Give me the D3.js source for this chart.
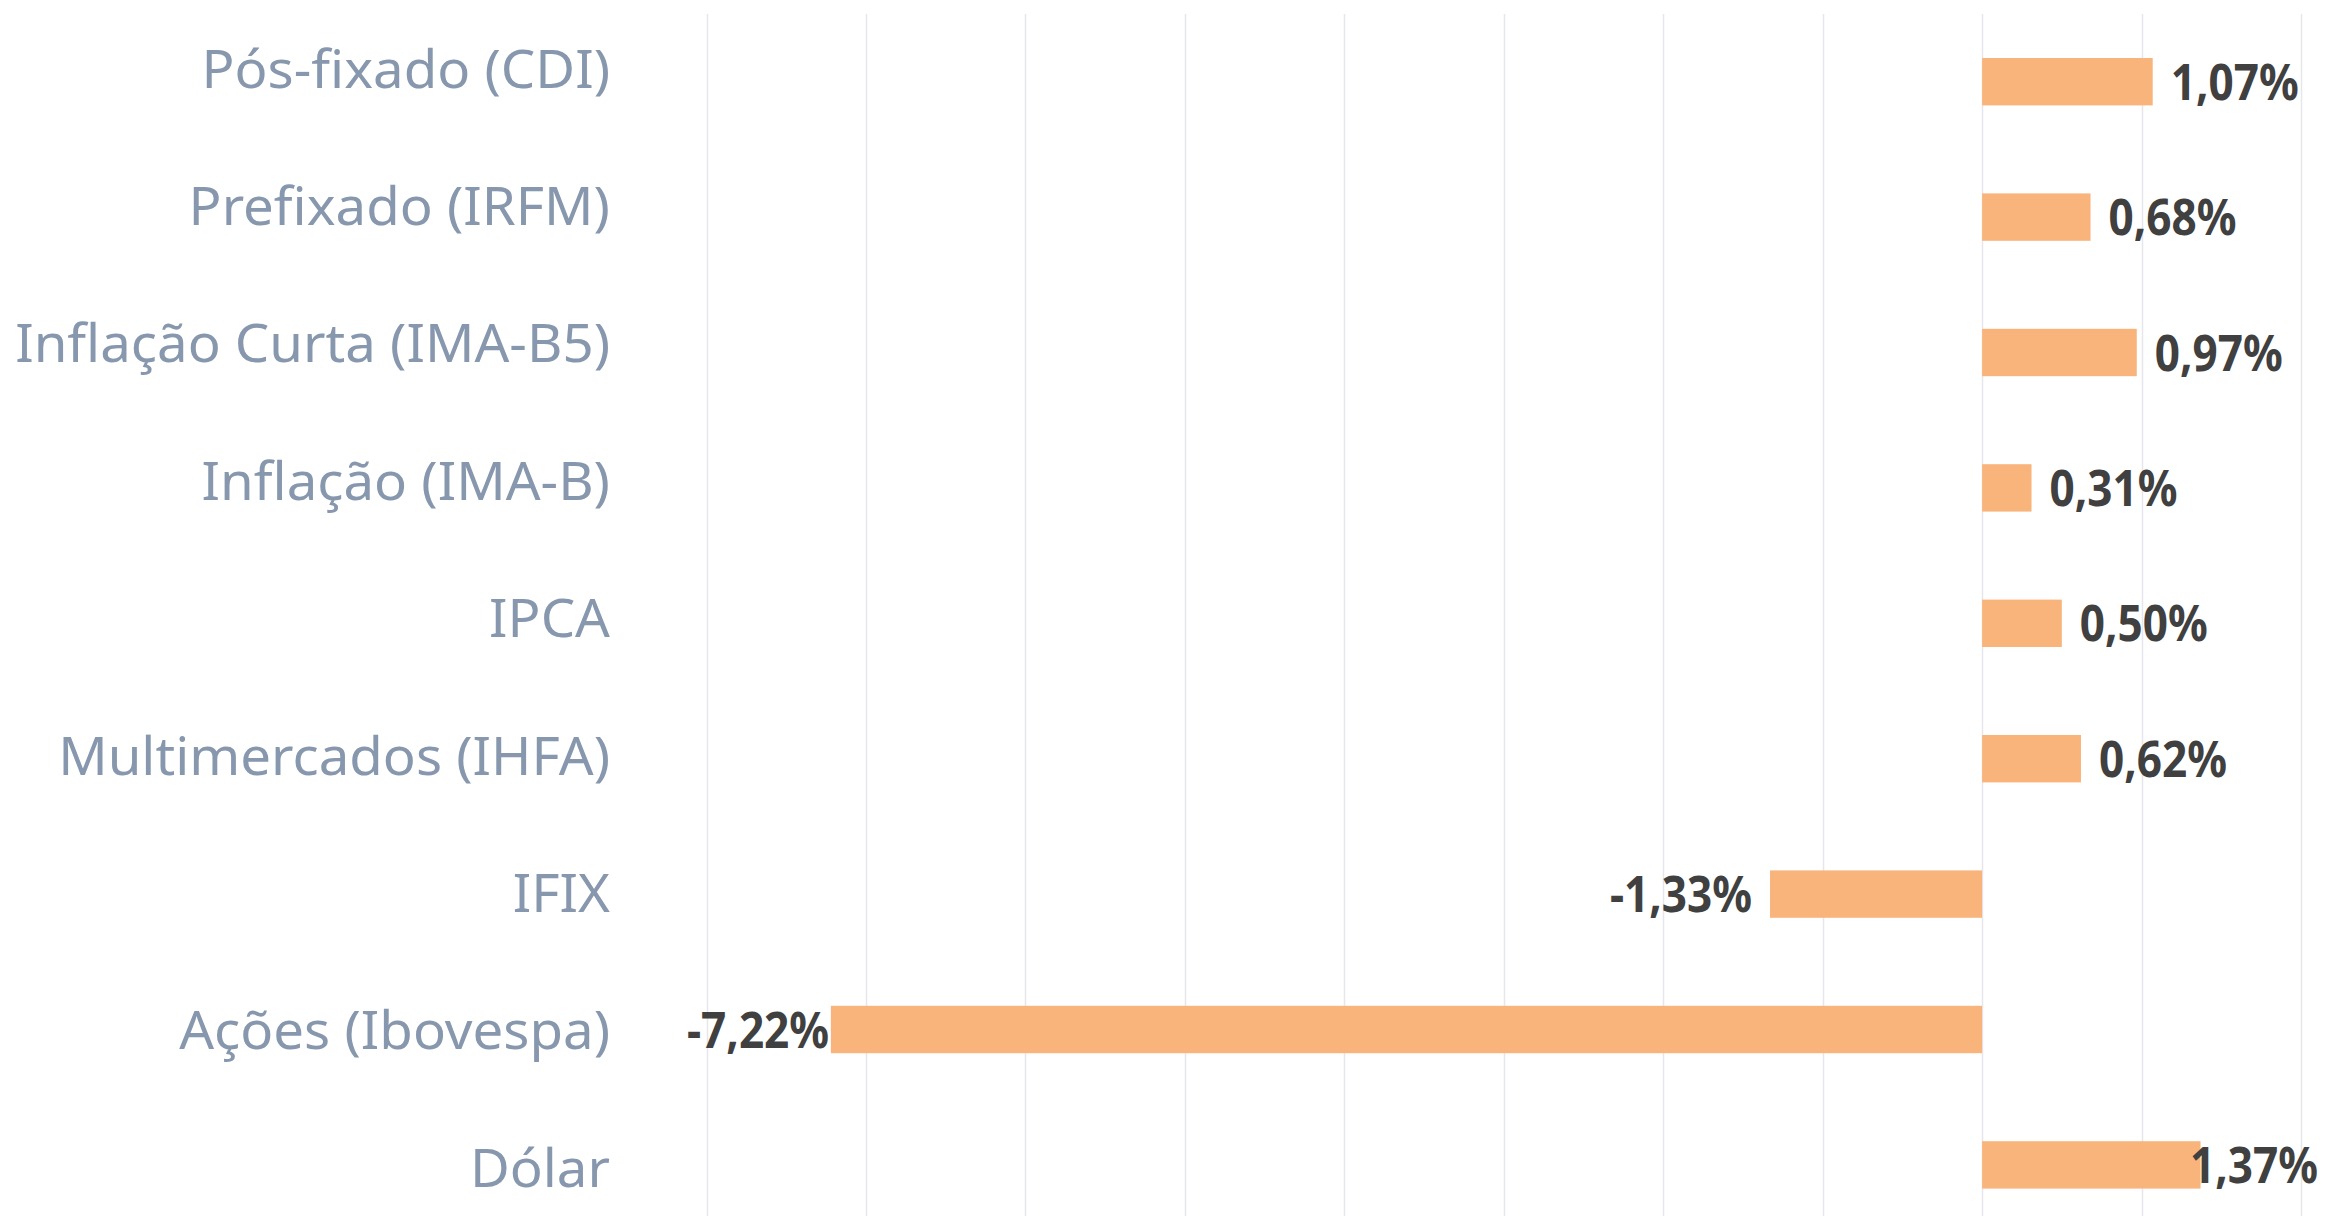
<!DOCTYPE html>
<html lang="pt-BR">
  <head>
    <meta charset="UTF-8" />
    <title>Rentabilidade</title>
    <script src="https://cdn.jsdelivr.net/npm/d3@7"></script>
    <style>
      body { margin: 0; background: #ffffff; }
      svg { display: block; }
    </style>
  </head>
  <body>
    <script>
      // dados
      var categorias = [
        "Pós-fixado (CDI)",
        "Prefixado (IRFM)",
        "Inflação Curta (IMA-B5)",
        "Inflação (IMA-B)",
        "IPCA",
        "Multimercados (IHFA)",
        "IFIX",
        "Ações (Ibovespa)",
        "Dólar"
      ];
      var valores = [1.07, 0.68, 0.97, 0.31, 0.5, 0.62, -1.33, -7.22, 1.37];
      var dominio = [-8, 2];

      var W = 2351, H = 1223;
      var corBarra = "#f9b47c";
      var corRotulo = "#8797ad";
      var corValor = "#404040";
      var corGrade = "#e6e7ec";

      var svg = d3.select("body").append("svg")
        .attr("width", W)
        .attr("height", H);

      var x = d3.scaleLinear().domain(dominio).range([706.5, 2301]);

      var y = d3.scaleBand()
        .domain(categorias)
        .range([14, 14 + 9 * 135.4])
        .paddingInner(0.65)
        .paddingOuter(0.325);

      // os rótulos das categorias ficam um pouco mais espaçados que as barras
      var yRot = d3.scalePoint().domain(categorias).range([69, 1168]);

      var loc = d3.formatLocale({
        decimal: ",",
        thousands: ".",
        grouping: [3],
        currency: ["R$", ""],
        minus: "-"
      });
      var fmt = loc.format(".2f");

      // linhas de grade
      svg.append("g")
        .selectAll("line")
        .data(x.ticks(10))
        .enter()
        .append("line")
        .attr("x1", function (d) { return Math.round(x(d)) + 0.5; })
        .attr("x2", function (d) { return Math.round(x(d)) + 0.5; })
        .attr("y1", 14)
        .attr("y2", 1216)
        .attr("stroke", corGrade)
        .attr("stroke-width", 1.5);

      var dados = categorias.map(function (c, i) {
        return { nome: c, v: valores[i] };
      });

      // barras
      svg.append("g")
        .selectAll("rect")
        .data(dados)
        .enter()
        .append("rect")
        .attr("x", function (d) { return x(Math.min(0, d.v)); })
        .attr("y", function (d) { return y(d.nome); })
        .attr("width", function (d) { return Math.abs(x(d.v) - x(0)); })
        .attr("height", y.bandwidth())
        .attr("fill", corBarra);

      // rótulos das categorias (fonte condensada via escala horizontal)
      var rot = svg.append("g")
        .selectAll("text")
        .data(dados)
        .enter()
        .append("text")
        .attr("text-anchor", "end")
        .attr("dy", "0.36em")
        .attr("font-family", "'Noto Sans', 'Open Sans', sans-serif")
        .attr("font-size", 52)
        .attr("fill", corRotulo)
        .text(function (d) { return d.nome; });

      var maior = 0;
      rot.each(function () {
        maior = Math.max(maior, this.getComputedTextLength());
      });
      var kx = 595 / maior;
      rot.attr("transform", function (d) {
        return "translate(610," + yRot(d.nome) + ") scale(" + kx + ",1)";
      });

      // rótulos de valor
      var val = svg.append("g")
        .selectAll("text")
        .data(dados)
        .enter()
        .append("text")
        .attr("dy", "0.36em")
        .attr("font-family", "'Noto Sans', 'Open Sans', sans-serif")
        .attr("font-weight", "bold")
        .attr("font-size", 50)
        .attr("fill", corValor)
        .text(function (d) { return fmt(d.v) + "%"; });

      var ref = val.filter(function (d) { return d.v === 1.07; }).node();
      var kv = 128 / ref.getComputedTextLength();

      val.attr("transform", function (d) {
        var w = this.getComputedTextLength() * kv;
        var x0;
        if (d.v >= 0) {
          x0 = x(d.v) + 18;
          if (x0 + w > 2318) x0 = 2318 - w;
        } else {
          x0 = x(d.v) - 18 - w;
          if (x0 < 687) x0 = 687;
        }
        var yc = y(d.nome) + y.bandwidth() / 2;
        return "translate(" + x0 + "," + yc + ") scale(" + kv + ",1)";
      });
    </script>
  </body>
</html>
